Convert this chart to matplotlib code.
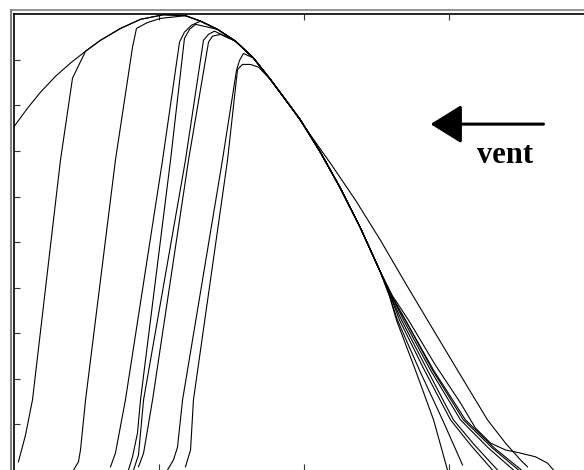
import matplotlib
matplotlib.use("Agg")
import matplotlib.pyplot as plt
from matplotlib.lines import Line2D

# common path that all the trajectories follow near the top
env_x = [0.000, 0.097, 0.186, 0.290, 0.393, 0.497, 0.600, 0.738, 0.876, 1.034,
         1.186, 1.290, 1.407, 1.531, 1.655, 1.772, 1.910, 1.979, 2.117, 2.255,
         2.393, 2.531]
env_y = [7.52, 7.94, 8.29, 8.64, 8.93, 9.19, 9.43, 9.69, 9.89, 9.99,
         9.97, 9.85, 9.67, 9.41, 9.04, 8.57, 7.98, 7.68, 6.97, 6.18,
         5.31, 4.34]

# rising branch of each trajectory (ground -> joins the common path)
rise_x = [
    [],
    [0.034, 0.083, 0.131, 0.324, 0.407],
    [0.414, 0.448, 0.462, 0.497, 0.703, 0.821, 0.848, 0.924, 1.014],
    [0.669, 0.703, 0.772, 1.028, 1.145, 1.179, 1.228],
    [0.793, 0.821, 0.855, 0.876, 1.083, 1.179, 1.214, 1.255],
    [0.828, 0.862, 0.897, 1.186, 1.310, 1.345, 1.386],
    [0.862, 0.897, 0.959, 1.207, 1.345, 1.372, 1.428],
    [1.062, 1.103, 1.131, 1.166, 1.441, 1.538, 1.559, 1.586],
    [1.186, 1.221, 1.241, 1.476, 1.545, 1.579, 1.634, 1.690],
]
rise_y = [
    [],
    [0.18, 0.77, 1.54, 6.80, 8.60],
    [0.00, 0.18, 0.44, 1.54, 6.80, 9.28, 9.69, 9.82, 9.91],
    [0.07, 0.37, 1.54, 6.80, 9.39, 9.61, 9.76],
    [0.00, 0.29, 0.81, 1.54, 6.80, 9.47, 9.67, 9.78],
    [0.00, 0.33, 1.54, 6.80, 9.43, 9.56, 9.63],
    [0.07, 0.37, 1.54, 6.80, 9.39, 9.52, 9.56],
    [0.00, 0.22, 0.50, 1.54, 6.80, 8.77, 8.99, 9.14],
    [0.07, 0.44, 1.54, 6.80, 8.79, 8.90, 8.90, 8.84],
]
join_at = [0, 5, 10, 11, 12, 13, 13, 14, 15]

# falling branch of each trajectory (leaves the common path -> ground)
leave_at = [16, 21, 21, 21, 21, 21, 21, 21, 21]
tail_x = [
    [2.048, 2.186, 2.359, 2.531, 2.703, 2.855, 3.062, 3.269, 3.393, 3.497, 3.545],
    [2.593, 2.641, 2.772, 2.897, 2.993],
    [2.593, 2.648, 2.800, 2.959, 3.097],
    [2.600, 2.662, 2.834, 3.014, 3.152, 3.303],
    [2.600, 2.676, 2.855, 3.034, 3.179, 3.338],
    [2.607, 2.690, 2.876, 3.083, 3.276, 3.448],
    [2.607, 2.703, 2.890, 3.103, 3.303, 3.483],
    [2.607, 2.703, 2.897, 3.117, 3.317, 3.503],
    [2.614, 2.724, 2.910, 3.083, 3.186, 3.290, 3.393, 3.497, 3.600, 3.683, 3.724],
]
tail_y = [
    [7.35, 6.73, 5.92, 5.04, 4.10, 3.29, 2.19, 1.10, 0.59, 0.22, 0.07],
    [3.82, 3.29, 2.19, 1.10, 0.00],
    [3.82, 3.29, 2.19, 1.10, 0.11],
    [3.82, 3.29, 2.19, 1.10, 0.55, 0.00],
    [3.82, 3.29, 2.19, 1.10, 0.55, 0.00],
    [3.82, 3.29, 2.19, 1.10, 0.48, 0.00],
    [3.82, 3.29, 2.19, 1.10, 0.48, 0.00],
    [3.82, 3.29, 2.19, 1.10, 0.48, 0.00],
    [3.82, 3.29, 2.30, 1.47, 0.92, 0.59, 0.44, 0.37, 0.29, 0.15, 0.00],
]

W, H = 584, 470
fig = plt.figure(figsize=(W / 100, H / 100), dpi=100)
ax = fig.add_axes((13.5 / W, 0, 1 - 13.5 / W, 1 - 14.3 / H))

for k in range(len(join_at)):
    xs = rise_x[k] + env_x[join_at[k]:leave_at[k] + 1] + tail_x[k]
    ys = rise_y[k] + env_y[join_at[k]:leave_at[k] + 1] + tail_y[k]
    ax.plot(xs, ys, color='k', lw=0.8, solid_joinstyle='round')

ax.set_xlim(0, (W - 13.5) / 145)
ax.set_ylim(0, 10)
ax.set_xticks([1, 2, 3])
ax.set_yticks(range(1, 10))
ax.tick_params(direction='in', length=4, width=0.8, color='#333333',
               top=True, bottom=True, left=True, right=False,
               labelleft=False, labelbottom=False)
for s in ['right', 'bottom']:
    ax.spines[s].set_visible(False)
for s in ['left', 'top']:
    ax.spines[s].set_linewidth(1.2)

# arrow and label
ax.annotate('', xy=(2.876, 7.59), xytext=(3.655, 7.59),
            arrowprops=dict(arrowstyle='-|>,head_length=0.97,head_width=0.6',
                            lw=2.2, color='k', shrinkA=0, shrinkB=0,
                            mutation_scale=20))
ax.text(3.393, 6.73, 'vent', ha='center', va='baseline', fontsize=22,
        fontweight='bold', family='Liberation Serif')

# grey outer frame
fig.add_artist(Line2D([10.5 / W, 1], [1 - 10 / H, 1 - 10 / H],
                      transform=fig.transFigure, color='#808080', lw=1.2))
fig.add_artist(Line2D([10.5 / W, 10.5 / W], [0, 1 - 10 / H],
                      transform=fig.transFigure, color='#808080', lw=1.5))

fig.savefig('out.png', dpi=100)
